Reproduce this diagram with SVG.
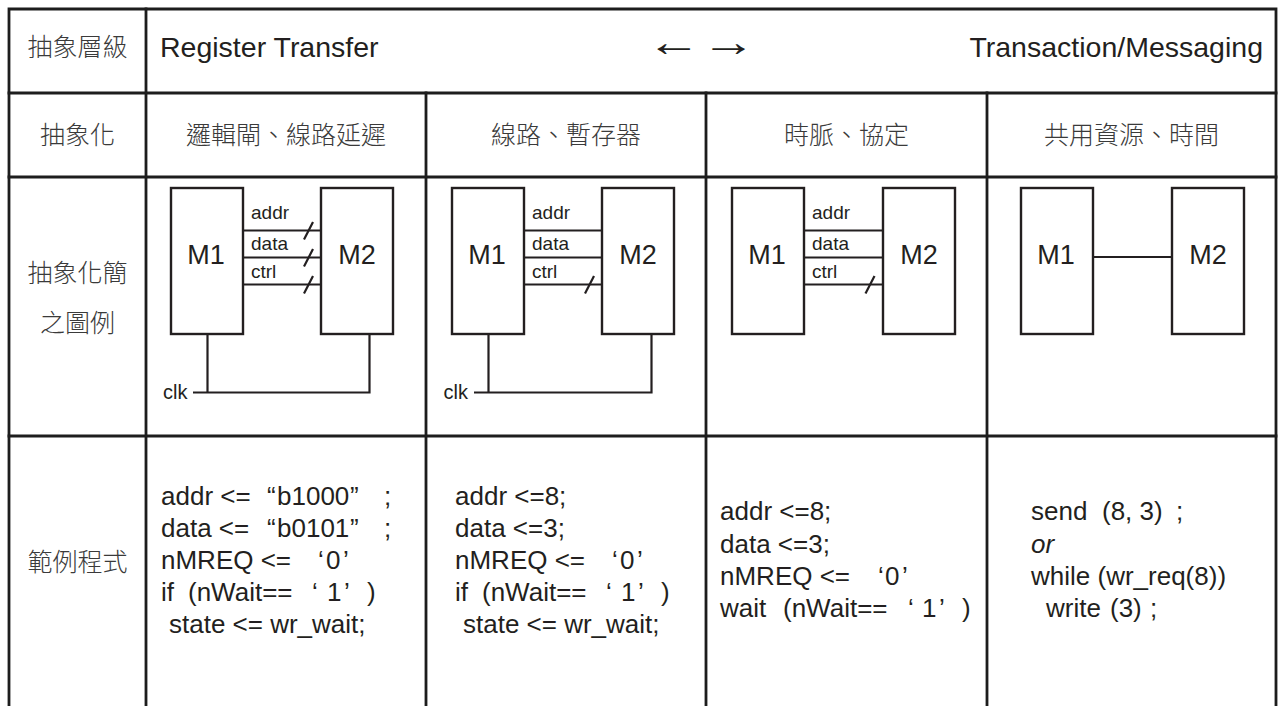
<svg xmlns="http://www.w3.org/2000/svg" width="1279" height="706" viewBox="0 0 1279 706">
  <style>
    .grid{stroke:#1d1d1d;stroke-width:2.8;fill:none;stroke-linecap:square}
    .box{fill:#fff;stroke:#231f20;stroke-width:2.4}
    .wire{stroke:#231f20;stroke-width:2.2;fill:none}
    .cjk{font-family:"Noto Sans CJK TC","Noto Sans CJK SC",sans-serif;font-size:25px;font-weight:300;fill:#3a3a3a;text-anchor:middle}
    .hd{font-family:"Liberation Sans",Arial,sans-serif;font-size:28.5px;fill:#231f20}
    .arw{font-family:"Liberation Sans","DejaVu Sans",sans-serif;font-size:42px;fill:#231f20}
    .mod{font-family:"Liberation Sans",Arial,sans-serif;font-size:27px;fill:#231f20;text-anchor:middle}
    .sig{font-family:"Liberation Sans",Arial,sans-serif;font-size:19px;fill:#231f20}
    .clk{font-family:"Liberation Sans",Arial,sans-serif;font-size:20px;fill:#231f20}
    .code{font-family:"Liberation Sans",Arial,sans-serif;font-size:26px;fill:#231f20}
  </style>

  <!-- table grid -->
  <g id="table" class="grid">
    <path d="M9 706 V9 H1276 V706"/>
    <path d="M9 93 H1276 M9 177 H1276 M9 436 H1276"/>
    <path d="M146 9 V706 M426 93 V706 M706 93 V706 M987 93 V706"/>
  </g>

  <!-- header row -->
  <g id="header">
    <text class="cjk" x="77.5" y="56">抽象層級</text>
    <text class="hd" x="160" y="57">Register Transfer</text>
    <text class="arw" transform="translate(646.8 55.5) scale(1.3 1)">←→</text>
    <text class="hd" x="1263" y="57" text-anchor="end">Transaction/Messaging</text>
  </g>

  <!-- abstraction row -->
  <g id="abstraction">
    <text class="cjk" x="77.5" y="144">抽象化</text>
    <text class="cjk" x="286" y="144">邏輯閘、線路延遲</text>
    <text class="cjk" x="566" y="144">線路、暫存器</text>
    <text class="cjk" x="846.5" y="144">時脈、協定</text>
    <text class="cjk" x="1131.5" y="144">共用資源、時間</text>
  </g>

  <!-- row labels -->
  <g id="row-labels">
    <text class="cjk" x="77.5" y="282">抽象化簡</text>
    <text class="cjk" x="77.5" y="332">之圖例</text>
    <text class="cjk" x="77.5" y="571">範例程式</text>
  </g>

  <!-- connectors -->
  <g id="connectors" class="wire">
    <!-- gate level: three buses, each with a width slash, plus clock -->
    <path d="M243 230.5 H321 M243 257.5 H321 M243 284.5 H321"/>
    <path d="M304 239.5 L313 222 M304 266.5 L313 249 M304 293.5 L313 276"/>
    <path d="M207.5 334 V392.5 M193 392.5 H369.5 V334"/>
    <!-- register level -->
    <path d="M524 230.5 H602 M524 257.5 H602 M524 284.5 H602"/>
    <path d="M585 293.5 L594 276"/>
    <path d="M488.5 334 V392.5 M474 392.5 H651.5 V334"/>
    <!-- protocol level -->
    <path d="M804 230.5 H883 M804 257.5 H883 M804 284.5 H883"/>
    <path d="M865.5 293.5 L874.5 276"/>
    <!-- transaction level -->
    <path d="M1093 257 H1172"/>
  </g>

  <!-- signal labels -->
  <g id="signal-labels" class="sig">
    <text x="251" y="219">addr</text><text x="251" y="250">data</text><text x="251" y="278">ctrl</text>
    <text x="532" y="219">addr</text><text x="532" y="250">data</text><text x="532" y="278">ctrl</text>
    <text x="812" y="219">addr</text><text x="812" y="250">data</text><text x="812" y="278">ctrl</text>
  </g>
  <g id="clock-labels" class="clk">
    <text x="163" y="399">clk</text>
    <text x="443.5" y="399">clk</text>
  </g>

  <!-- modules -->
  <g id="gate-m1"><rect class="box" x="171" y="188" width="72" height="146"/><text class="mod" x="206" y="264">M1</text></g>
  <g id="gate-m2"><rect class="box" x="321" y="188" width="72" height="146"/><text class="mod" x="357" y="264">M2</text></g>
  <g id="reg-m1"><rect class="box" x="452" y="188" width="72" height="146"/><text class="mod" x="487" y="264">M1</text></g>
  <g id="reg-m2"><rect class="box" x="602" y="188" width="72" height="146"/><text class="mod" x="638" y="264">M2</text></g>
  <g id="proto-m1"><rect class="box" x="732" y="188" width="72" height="146"/><text class="mod" x="767" y="264">M1</text></g>
  <g id="proto-m2"><rect class="box" x="883" y="188" width="72" height="146"/><text class="mod" x="919" y="264">M2</text></g>
  <g id="txn-m1"><rect class="box" x="1021" y="188" width="72" height="146"/><text class="mod" x="1056" y="264">M1</text></g>
  <g id="txn-m2"><rect class="box" x="1172" y="188" width="72" height="146"/><text class="mod" x="1208" y="264">M2</text></g>

  <!-- example code -->
  <g id="code-gate" class="code">
    <text y="505"><tspan x="161">addr &lt;=</tspan><tspan x="267">“</tspan><tspan x="277">b1000</tspan><tspan x="350">”</tspan><tspan x="384">;</tspan></text>
    <text y="537"><tspan x="161">data &lt;=</tspan><tspan x="267">“</tspan><tspan x="277">b0101</tspan><tspan x="350">”</tspan><tspan x="384">;</tspan></text>
    <text y="569"><tspan x="161">nMREQ &lt;=</tspan><tspan x="318">‘</tspan><tspan x="326">0</tspan><tspan x="343">’</tspan></text>
    <text y="601"><tspan x="161">if</tspan><tspan x="188">(nWait==</tspan><tspan x="312">‘</tspan><tspan x="327">1</tspan><tspan x="344">’</tspan><tspan x="367">)</tspan></text>
    <text y="633" x="169">state &lt;= wr_wait;</text>
  </g>
  <g id="code-reg" class="code">
    <text x="455" y="505">addr &lt;=8;</text>
    <text x="455" y="537">data &lt;=3;</text>
    <text y="569"><tspan x="455">nMREQ &lt;=</tspan><tspan x="612">‘</tspan><tspan x="620">0</tspan><tspan x="637">’</tspan></text>
    <text y="601"><tspan x="455">if</tspan><tspan x="482">(nWait==</tspan><tspan x="606">‘</tspan><tspan x="621">1</tspan><tspan x="638">’</tspan><tspan x="661">)</tspan></text>
    <text y="633" x="463">state &lt;= wr_wait;</text>
  </g>
  <g id="code-proto" class="code">
    <text x="720" y="520">addr &lt;=8;</text>
    <text x="720" y="553">data &lt;=3;</text>
    <text y="585"><tspan x="720">nMREQ &lt;=</tspan><tspan x="878">‘</tspan><tspan x="885">0</tspan><tspan x="902">’</tspan></text>
    <text y="617"><tspan x="720">wait</tspan><tspan x="783">(nWait==</tspan><tspan x="908">‘</tspan><tspan x="922">1</tspan><tspan x="939">’</tspan><tspan x="962">)</tspan></text>
  </g>
  <g id="code-txn" class="code">
    <text y="520"><tspan x="1031">send</tspan><tspan x="1102">(8, 3)</tspan><tspan x="1176">;</tspan></text>
    <text x="1031" y="553" font-style="italic">or</text>
    <text x="1031" y="585">while (wr_req(8))</text>
    <text y="617"><tspan x="1046">write</tspan><tspan x="1110">(3)</tspan><tspan x="1150">;</tspan></text>
  </g>
</svg>
